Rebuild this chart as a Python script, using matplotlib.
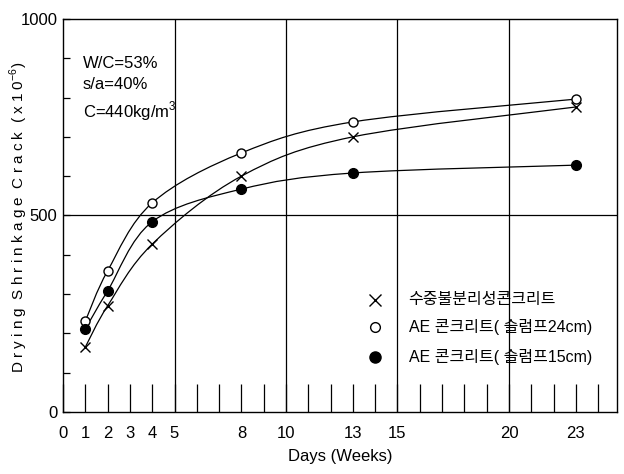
import numpy as np
import matplotlib.pyplot as plt
from matplotlib.path import Path
from matplotlib.patches import PathPatch

# data
weeks = [1, 2, 4, 8, 13, 23]
uwc = [165, 270, 427, 600, 700, 776]        # 수중불분리성콘크리트
ae24 = [231, 359, 532, 659, 738, 796]       # AE 콘크리트 슬럼프24cm
ae15 = [211, 308, 484, 567, 608, 628]       # AE 콘크리트 슬럼프15cm
xtick_labels = [0, 1, 2, 3, 4, 5, 8, 10, 13, 15, 20, 23]

FONTS = ['Liberation Sans', 'Noto Sans CJK KR', 'DejaVu Sans']
plt.rcParams['font.family'] = FONTS
plt.rcParams['mathtext.fontset'] = 'custom'
plt.rcParams['mathtext.rm'] = 'Liberation Sans'


def smooth_path(x, y):
    # Catmull-Rom -> cubic bezier segments through the points
    x = np.asarray(x, float)
    y = np.asarray(y, float)
    verts = [(x[0], y[0])]
    codes = [Path.MOVETO]
    n = len(x)
    for i in range(n - 1):
        p0 = (x[i - 1], y[i - 1]) if i > 0 else (x[i], y[i])
        p1 = (x[i], y[i])
        p2 = (x[i + 1], y[i + 1])
        p3 = (x[i + 2], y[i + 2]) if i + 2 < n else (x[i + 1], y[i + 1])
        c1 = (p1[0] + (p2[0] - p0[0]) / 6, p1[1] + (p2[1] - p0[1]) / 6)
        c2 = (p2[0] - (p3[0] - p1[0]) / 6, p2[1] - (p3[1] - p1[1]) / 6)
        verts += [c1, c2, p2]
        codes += [Path.CURVE4] * 3
    return Path(verts, codes)


fig = plt.figure(figsize=(6.24, 4.74), dpi=100)
ax = fig.add_axes([0.101, 0.131, 0.888, 0.829])

for ys in (uwc, ae24, ae15):
    ax.add_patch(PathPatch(smooth_path(weeks, ys), fill=False, color='black', lw=0.9))

ax.plot(weeks, uwc, 'x', color='black', ms=7, mew=1, linestyle='none')
ax.plot(weeks, ae24, 'o', mfc='white', mec='black', ms=6.5, mew=1, linestyle='none')
ax.plot(weeks, ae15, 'o', mfc='black', mec='black', ms=7, linestyle='none')

# grid lines
for gx in [5, 10, 15, 20]:
    ax.axvline(gx, color='black', lw=0.9)
ax.axhline(500, color='black', lw=0.9)

ax.set_xlim(0, 24.85)
ax.set_ylim(0, 1000)

ax.set_xticks(xtick_labels)
ax.set_xticklabels([str(v) for v in xtick_labels], fontsize=12)
ax.set_xticks(range(0, 25), minor=True)
ax.tick_params(axis='x', which='both', direction='in', length=20, width=0.9, pad=10)
ax.tick_params(axis='x', which='minor', labelbottom=False)

ax.set_yticks([0, 500, 1000])
ax.set_yticklabels(['0', '500', '1000'], fontsize=12)
ax.set_yticks(range(0, 1001, 100), minor=True)
ax.tick_params(axis='y', which='both', direction='in', length=5, width=0.9, pad=4)

for s in ax.spines.values():
    s.set_linewidth(1.0)

ax.set_xlabel('Days (Weeks)', fontsize=12, labelpad=6)
fig.text(0.030, 0.542,
         'D r y i n g  S h r i n k a g e  C r a c k  ( x 1 0$^{-6}$)',
         fontsize=11, rotation=90, ha='center', va='center')

ax.text(0.9, 905, 'W/C=53%\ns/a=40%\nC=440kg/m$^3$', fontsize=12,
        va='top', ha='left', linespacing=1.45)

# legend
ax.plot(14.0, 285, 'x', color='black', ms=8, mew=1)
ax.plot(14.0, 216, 'o', mfc='white', mec='black', ms=7, mew=1)
ax.plot(14.0, 140, 'o', mfc='black', mec='black', ms=8)
ax.text(15.5, 285, '수중불분리성콘크리트', fontsize=11.5, va='center')
ax.text(15.5, 216, 'AE 콘크리트( 슬럼프24cm)', fontsize=11.5, va='center')
ax.text(15.5, 140, 'AE 콘크리트( 슬럼프15cm)', fontsize=11.5, va='center')

fig.savefig('out.png', dpi=100)
